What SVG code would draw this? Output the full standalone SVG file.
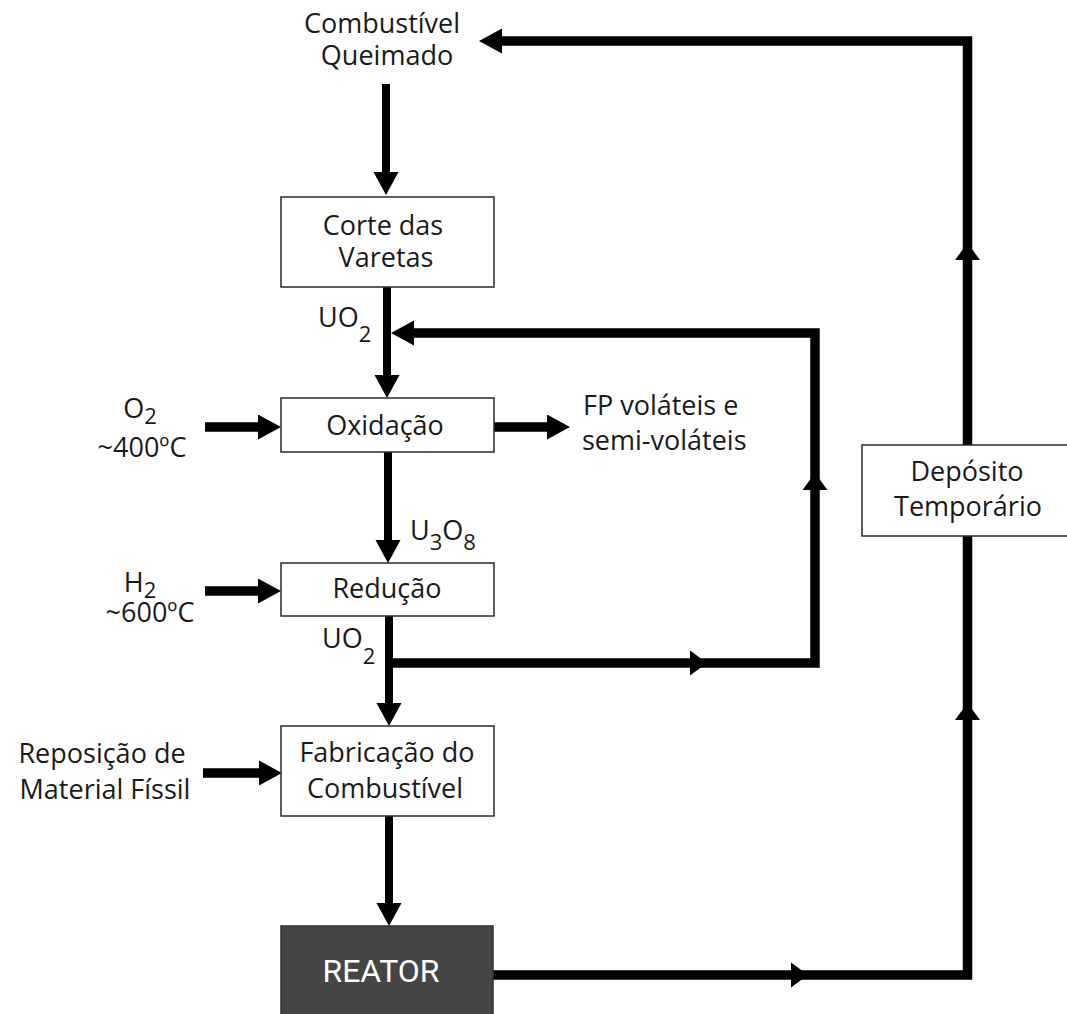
<svg xmlns="http://www.w3.org/2000/svg" xmlns:xlink="http://www.w3.org/1999/xlink" width="1067" height="1014" viewBox="0 0 1067 1014">
<style>
  .t { font-family: "Open Sans", "Noto Sans", "DejaVu Sans", sans-serif; font-size: 27px; fill: #1a1a1a; }
  .c { text-anchor: middle; }
  .sub { font-size: 22px; }
  .box { fill: #ffffff; stroke: #2a2a2a; stroke-width: 1.5; }
  .dark { fill: #454545; stroke: #333333; stroke-width: 1.5; }
  .rt { font-family: Roboto, "Liberation Sans", sans-serif; font-size: 32px; fill: #ffffff; text-anchor: middle; }
  .ln { fill: none; stroke: #000000; stroke-linejoin: miter; stroke-linecap: butt; }
  .w8 { stroke-width: 8; }
  .w9 { stroke-width: 9.5; }
</style>
<defs>
  <marker id="arr" markerUnits="userSpaceOnUse" markerWidth="24" markerHeight="26" refX="0" refY="12.5" orient="auto">
    <path d="M0,0 L23,12.5 L0,25 Z" fill="#000"/>
  </marker>
  <path id="mid" d="M0,0 L-17,-12.5 L-17,12.5 Z" fill="#000"/>
</defs>

<g id="connectors">
  <!-- outer return loop: reactor -> deposit -> spent fuel -->
  <path class="ln w9" d="M493,975 H967.5 V41 H502" marker-end="url(#arr)"/>
  <use xlink:href="#mid" transform="translate(808,975)"/>
  <use xlink:href="#mid" transform="translate(967.5,703) rotate(-90)"/>
  <use xlink:href="#mid" transform="translate(967.5,243) rotate(-90)"/>
  <!-- inner recycle loop -->
  <path class="ln w9" d="M387,663 H815 V333 H414" marker-end="url(#arr)"/>
  <use xlink:href="#mid" transform="translate(707,663)"/>
  <use xlink:href="#mid" transform="translate(815,473) rotate(-90)"/>
  <!-- main vertical flow -->
  <path class="ln w8" d="M386,84 V172" marker-end="url(#arr)"/>
  <path class="ln w8" d="M387,287 V375" marker-end="url(#arr)"/>
  <path class="ln w8" d="M388,452 V540" marker-end="url(#arr)"/>
  <path class="ln w8" d="M389,616 V703" marker-end="url(#arr)"/>
  <path class="ln w8" d="M389,816 V903" marker-end="url(#arr)"/>
  <!-- side inputs / outputs -->
  <path class="ln w9" d="M205,427 H258" marker-end="url(#arr)"/>
  <path class="ln w9" d="M205,591 H258" marker-end="url(#arr)"/>
  <path class="ln w9" d="M203,773 H259" marker-end="url(#arr)"/>
  <path class="ln w9" d="M494,427 H547" marker-end="url(#arr)"/>
</g>

<g id="spent-fuel">
  <text class="t c"><tspan x="382" y="33">Combustível</tspan><tspan x="387" y="65">Queimado</tspan></text>
</g>

<g id="corte">
  <rect class="box" x="281" y="197" width="213" height="90"/>
  <text class="t c"><tspan x="383" y="235">Corte das</tspan><tspan x="386" y="267">Varetas</tspan></text>
</g>

<g id="label-uo2-top">
  <text class="t" x="318" y="327">UO<tspan class="sub" dy="15">2</tspan></text>
</g>

<g id="oxidacao">
  <rect class="box" x="281" y="398" width="213" height="54"/>
  <text class="t c" x="385" y="435">Oxidação</text>
</g>

<g id="input-o2">
  <text class="t c"><tspan x="140" y="418">O</tspan><tspan class="sub" dy="6">2</tspan><tspan x="142" y="457">~400ºC</tspan></text>
</g>

<g id="output-fp">
  <text class="t"><tspan x="583" y="415">FP voláteis e</tspan><tspan x="582" y="450">semi-voláteis</tspan></text>
</g>

<g id="label-u3o8">
  <text class="t" x="410" y="540">U<tspan class="sub" dy="10">3</tspan><tspan dy="-10">O</tspan><tspan class="sub" dy="10">8</tspan></text>
</g>

<g id="reducao">
  <rect class="box" x="281" y="563" width="213" height="53"/>
  <text class="t c" x="387" y="598">Redução</text>
</g>

<g id="input-h2">
  <text class="t c"><tspan x="140" y="592">H</tspan><tspan class="sub" dy="6">2</tspan><tspan x="150" y="622">~600ºC</tspan></text>
</g>

<g id="label-uo2-bottom">
  <text class="t" x="322" y="648">UO<tspan class="sub" dy="16">2</tspan></text>
</g>

<g id="fabricacao">
  <rect class="box" x="281" y="726" width="213" height="90"/>
  <text class="t c"><tspan x="387" y="762">Fabricação do</tspan><tspan x="385" y="798">Combustível</tspan></text>
</g>

<g id="input-reposicao">
  <text class="t c"><tspan x="102" y="763">Reposição de</tspan><tspan x="105" y="799">Material Físsil</tspan></text>
</g>

<g id="reator">
  <rect class="dark" x="281" y="926" width="212" height="100"/>
  <text class="rt" x="381" y="982">REATOR</text>
</g>

<g id="deposito">
  <rect class="box" x="862" y="445" width="215" height="91"/>
  <text class="t c"><tspan x="967" y="481">Depósito</tspan><tspan x="968" y="516">Temporário</tspan></text>
</g>
</svg>
